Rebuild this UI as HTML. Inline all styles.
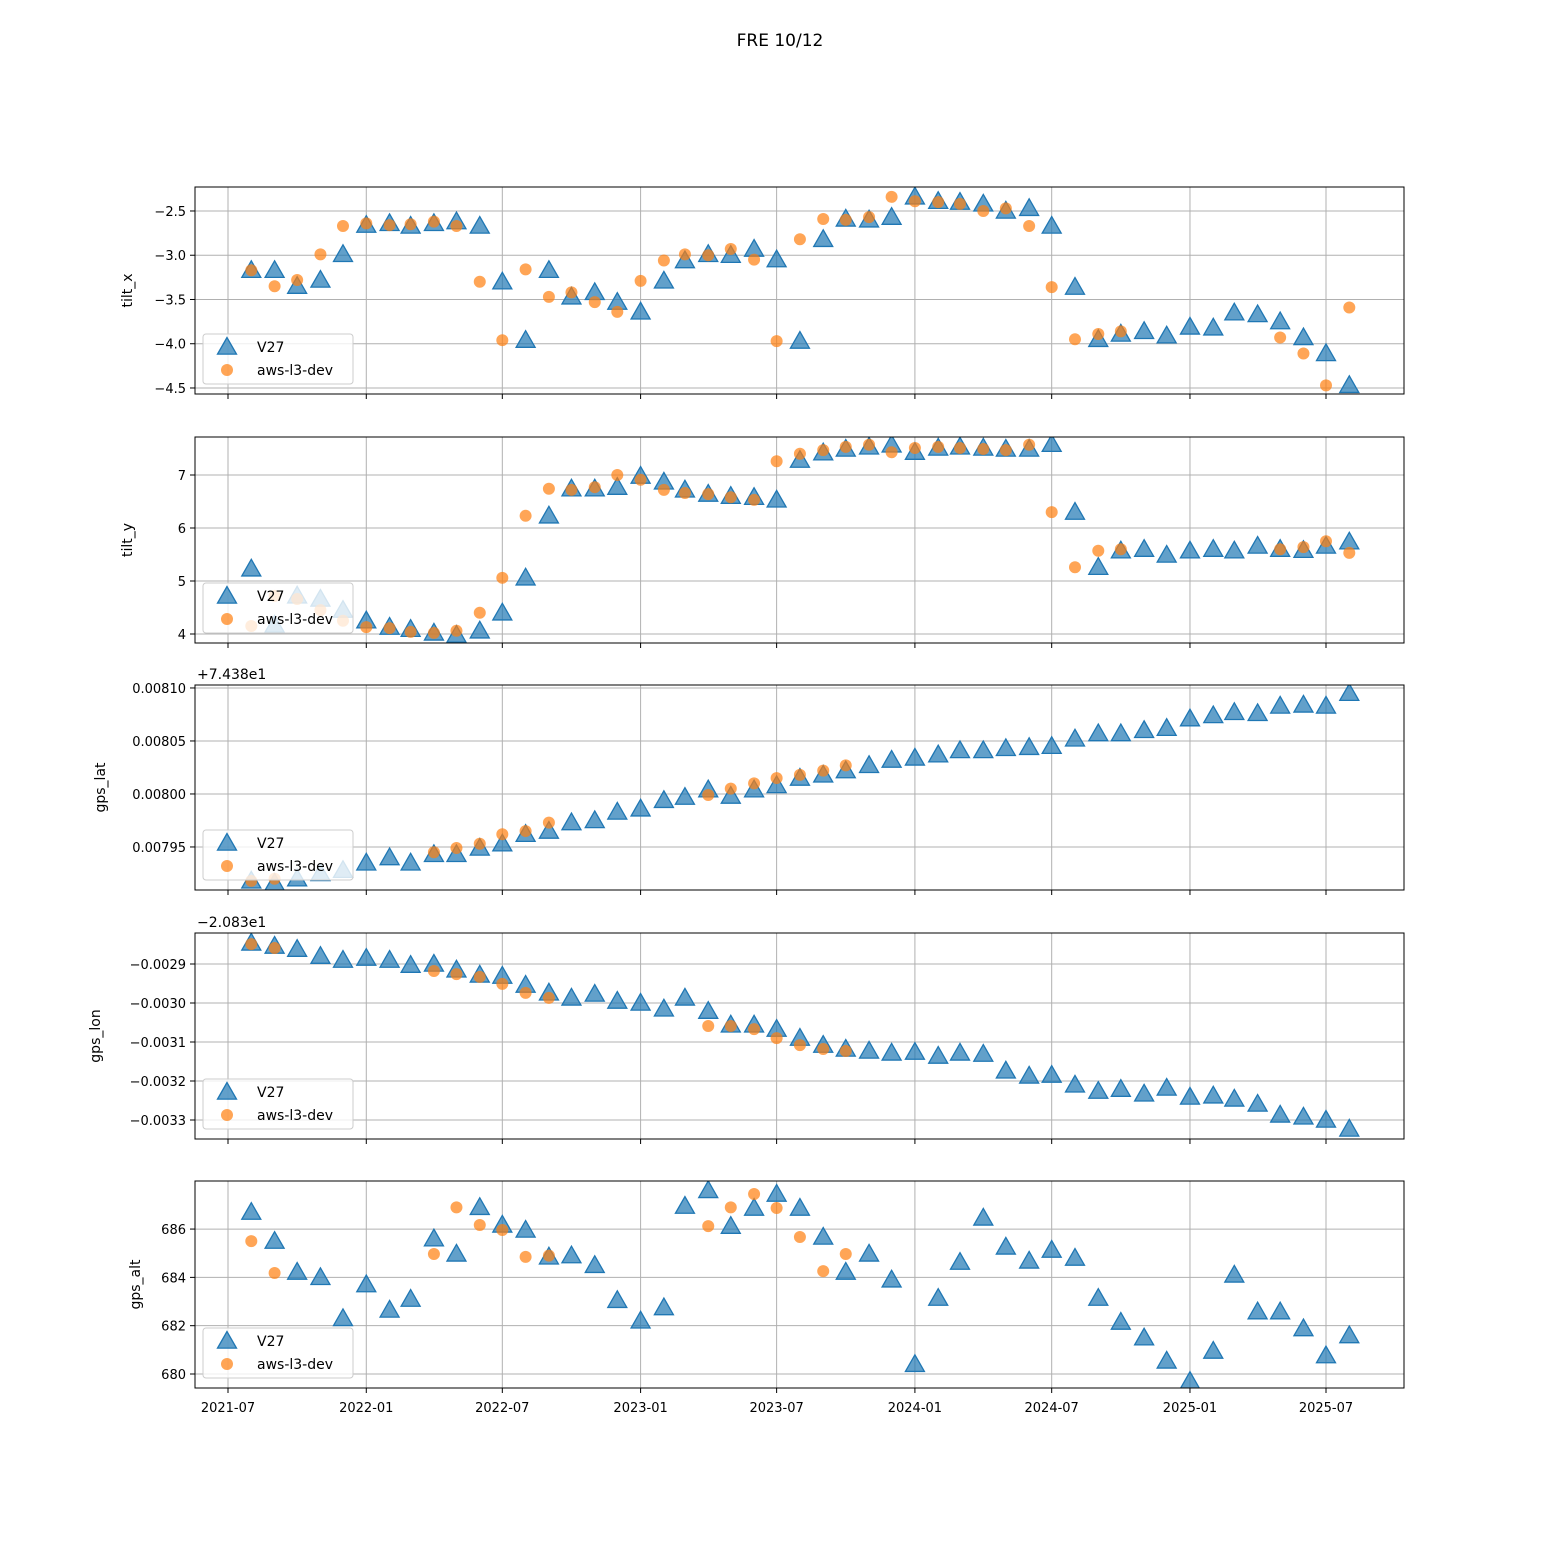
<!DOCTYPE html>
<html><head><meta charset="utf-8"><style>
body{margin:0;background:#fff}
svg text{font-family:"DejaVu Sans","Liberation Sans",sans-serif;fill:#000}
</style></head><body>
<svg id="fig" width="1560" height="1560" viewBox="0 0 1560 1560" xmlns="http://www.w3.org/2000/svg">
<rect width="1560" height="1560" fill="#fff"/>
<text x="780" y="46" font-size="17" text-anchor="middle">FRE 10/12</text>
</svg>
<script>
const startMonth = "2021-08";
const xTickLabels = ["2021-07","2022-01","2022-07","2023-01","2023-07","2024-01","2024-07","2025-01","2025-07"];
const N = null;
const v27TiltX = [-3.17,-3.17,-3.35,-3.28,-2.99,-2.66,-2.64,-2.67,-2.64,-2.62,-2.67,-3.30,-3.96,-3.17,-3.47,-3.42,-3.53,-3.64,-3.29,-3.06,-2.99,-3.00,-2.93,-3.05,-3.97,-2.82,-2.59,-2.60,-2.57,-2.34,-2.39,-2.40,-2.42,-2.50,-2.47,-2.67,-3.36,-3.95,-3.89,-3.86,-3.91,-3.81,-3.82,-3.65,-3.67,-3.75,-3.93,-4.11,-4.47];
const awsTiltX = [-3.17,-3.35,-3.28,-2.99,-2.67,-2.64,-2.66,-2.65,-2.62,-2.67,-3.30,-3.96,-3.16,-3.47,-3.42,-3.53,-3.64,-3.29,-3.06,-2.99,-3.00,-2.93,-3.05,-3.97,-2.82,-2.59,-2.60,-2.57,-2.34,-2.39,-2.40,-2.42,-2.50,-2.47,-2.67,-3.36,-3.95,-3.89,-3.86,N,N,N,N,N,N,-3.93,-4.11,-4.47,-3.59];
const v27TiltY = [5.23,4.17,4.72,4.66,4.45,4.25,4.13,4.09,4.02,3.98,4.06,4.40,5.06,6.23,6.74,6.74,6.77,6.98,6.87,6.72,6.64,6.60,6.58,6.53,7.28,7.42,7.49,7.53,7.57,7.43,7.51,7.53,7.51,7.49,7.49,7.58,6.30,5.26,5.57,5.60,5.49,5.57,5.60,5.57,5.66,5.60,5.58,5.66,5.74];
const awsTiltY = [4.15,4.72,4.66,4.45,4.25,4.13,4.11,4.04,4.02,4.06,4.40,5.06,6.23,6.74,6.72,6.77,7.00,6.91,6.72,6.66,6.64,6.58,6.53,7.26,7.40,7.47,7.53,7.57,7.43,7.51,7.53,7.51,7.49,7.47,7.57,6.30,5.26,5.57,5.60,N,N,N,N,N,N,5.60,5.64,5.75,5.53];
const v27Lat = [0.007918,0.007916,0.00792,0.007925,0.007928,0.007935,0.00794,0.007935,0.007943,0.007943,0.007949,0.007953,0.007962,0.007965,0.007973,0.007975,0.007983,0.007986,0.007994,0.007997,0.008004,0.007998,0.008004,0.008008,0.008015,0.008018,0.008022,0.008027,0.008032,0.008034,0.008037,0.008041,0.008041,0.008043,0.008044,0.008045,0.008052,0.008057,0.008057,0.00806,0.008062,0.008071,0.008074,0.008077,0.008076,0.008083,0.008084,0.008083,0.008095];
const awsLat = [0.007918,0.00792,N,N,N,N,N,N,0.007945,0.007949,0.007953,0.007962,0.007965,0.007973,N,N,N,N,N,N,0.007999,0.008005,0.00801,0.008015,0.008018,0.008022,0.008027,N,N,N,N,N,N,N,N,N,N,N,N,N,N,N,N,N,N,N,N,N,N];
const v27Lon = [-0.002846,-0.002854,-0.002862,-0.00288,-0.00289,-0.002885,-0.00289,-0.002903,-0.0029,-0.002915,-0.002928,-0.002931,-0.002954,-0.002974,-0.002987,-0.002977,-0.002995,-0.003,-0.003015,-0.002987,-0.003021,-0.003056,-0.003056,-0.003067,-0.00309,-0.003108,-0.003118,-0.003123,-0.003128,-0.003126,-0.003136,-0.003128,-0.003131,-0.003174,-0.003187,-0.003185,-0.00321,-0.003226,-0.003221,-0.003233,-0.003218,-0.003241,-0.003238,-0.003246,-0.003259,-0.003287,-0.003292,-0.0033,-0.003323];
const awsLon = [-0.002849,-0.002859,N,N,N,N,N,N,-0.002918,-0.002926,-0.002933,-0.002951,-0.002974,-0.002987,N,N,N,N,N,N,-0.003059,-0.003059,-0.003067,-0.00309,-0.003108,-0.003118,-0.003123,N,N,N,N,N,N,N,N,N,N,N,N,N,N,N,N,N,N,N,N,N,N];
const v27Alt = [686.7,685.5,684.22,684.0,682.3,683.7,682.65,683.1,685.6,684.97,686.9,686.17,685.96,684.85,684.9,684.5,683.05,682.2,682.75,686.95,687.6,686.12,686.87,687.45,686.87,685.67,684.22,684.97,683.9,680.4,683.14,684.63,686.46,685.26,684.68,685.13,684.8,683.14,682.15,681.5,680.54,679.7,680.95,684.1,682.58,682.58,681.88,680.76,681.59];
const awsAlt = [685.5,684.18,N,N,N,N,N,N,684.97,686.9,686.17,685.96,684.85,684.9,N,N,N,N,N,N,686.12,686.9,687.45,686.87,685.67,684.26,684.97,N,N,N,N,N,N,N,N,N,N,N,N,N,N,N,N,N,N,N,N,N,N];
const tiltXTicks = [-2.5,-3.0,-3.5,-4.0,-4.5];
const tiltYTicks = [4,5,6,7];
const latTicks = [0.00795,0.00800,0.00805,0.00810];
const lonTicks = [-0.0029,-0.0030,-0.0031,-0.0032,-0.0033];
const altTicks = [680,682,684,686];

const svg = document.getElementById('fig');
const NS = 'http://www.w3.org/2000/svg';
function mk(tag, attrs, parent){const e=document.createElementNS(NS,tag);for(const k in attrs)e.setAttribute(k,attrs[k]);(parent||svg).appendChild(e);return e;}
const L=195,R=1404;
const base=Date.UTC(2021,6,1), pxPerDay=(1326-228)/1461;
function xDate(y,m){return 228+(Date.UTC(y,m,1)-base)/86400000*pxPerDay;}
function xMonth(i){const [y,m]=startMonth.split('-').map(Number);return xDate(y,m-1+i);}
function tickLab(v){return xDate(+v.slice(0,4),+v.slice(5)-1);}

const panels=[
 {name:'tilt-x',label:'tilt_x',top:187,bot:394,lo:-4.568,hi:-2.229,ticks:tiltXTicks,fmt:v=>v.toFixed(1),v:v27TiltX,a:awsTiltX,labX:132},
 {name:'tilt-y',label:'tilt_y',top:437,bot:643,lo:3.83,hi:7.717,ticks:tiltYTicks,fmt:v=>String(v),v:v27TiltY,a:awsTiltY,labX:132},
 {name:'gps-lat',label:'gps_lat',top:685,bot:890,lo:0.0079094,hi:0.0081028,ticks:latTicks,fmt:v=>v.toFixed(5),v:v27Lat,a:awsLat,labX:105,offset:'+7.438e1'},
 {name:'gps-lon',label:'gps_lon',top:933,bot:1139,lo:-0.0033487,hi:-0.0028205,ticks:lonTicks,fmt:v=>v.toFixed(4),v:v27Lon,a:awsLon,labX:100,offset:'\u22122.083e1'},
 {name:'gps-alt',label:'gps_alt',top:1181,bot:1388,lo:679.42,hi:687.99,ticks:altTicks,fmt:v=>String(v),v:v27Alt,a:awsAlt,labX:140}
];
function tri(g,x,y,name){const s=9.5;const p=mk('polygon',{points:`${x},${y-s} ${x-s},${y+s*0.75} ${x+s},${y+s*0.75}`,fill:'#1f77b4','fill-opacity':0.7,stroke:'#1f77b4','stroke-width':1.3},g);

return p;}
function dot(g,x,y,name){const c=mk('circle',{cx:x,cy:y,r:6,fill:'#ff7f0e','fill-opacity':0.7},g);

return c;}

panels.forEach((p,pi)=>{
 const g=mk('g',{});
 
 
 const ys=v=>p.bot-(v-p.lo)/(p.hi-p.lo)*(p.bot-p.top);
 const clip=mk('clipPath',{id:'c'+pi},g);mk('rect',{x:L,y:p.top,width:R-L,height:p.bot-p.top},clip);
 xTickLabels.forEach(t=>{const x=tickLab(t);
  const gl=mk('line',{x1:x,x2:x,y1:p.top,y2:p.bot,stroke:'#b0b0b0','stroke-width':1},g);
  
  
  mk('line',{x1:x,x2:x,y1:p.bot,y2:p.bot+5,stroke:'#000','stroke-width':1},g);
  if(pi===4){const tx=mk('text',{x:x,y:p.bot+24,'font-size':13,'text-anchor':'middle'},g);tx.textContent=t;
   
   }
 });
 p.ticks.forEach(v=>{const y=ys(v);
  const gl=mk('line',{x1:L,x2:R,y1:y,y2:y,stroke:'#b0b0b0','stroke-width':1},g);
  
  
  mk('line',{x1:L-5,x2:L,y1:y,y2:y,stroke:'#000','stroke-width':1},g);
  const tx=mk('text',{x:L-9,y:y+5,'font-size':13,'text-anchor':'end'},g);tx.textContent=p.fmt(v).replace('-','\u2212');
  
  
 });
 const yl=mk('text',{x:p.labX,y:(p.top+p.bot)/2,'font-size':14,'text-anchor':'middle',transform:`rotate(-90 ${p.labX} ${(p.top+p.bot)/2})`},g);yl.textContent=p.label;
 
 
 if(p.offset){const o=mk('text',{x:197,y:p.top-6,'font-size':14},g);o.textContent=p.offset;
  
  }
 const mg=mk('g',{'clip-path':`url(#c${pi})`},g);
 p.v.forEach((v,i)=>{if(v!==null)tri(mg,xMonth(i),ys(v),'v27-point');});
 p.a.forEach((v,i)=>{if(v!==null)dot(mg,xMonth(i),ys(v),'aws-point');});
 mk('rect',{x:L,y:p.top,width:R-L,height:p.bot-p.top,fill:'none',stroke:'#000','stroke-width':1},g);
 const lg=mk('g',{},g);
 
 
 const lb=p.bot-10-50;
 mk('rect',{x:203,y:lb,width:150,height:50,rx:3,fill:'#fff','fill-opacity':0.8,stroke:'#ccc'},lg);
 tri(lg,227,lb+13,'legend-v27-marker');
 dot(lg,227,lb+36,'legend-aws-marker');
 const t1=mk('text',{x:257,y:lb+18,'font-size':14},lg);t1.textContent='V27';
 
 
 const t2=mk('text',{x:257,y:lb+41,'font-size':14},lg);t2.textContent='aws-l3-dev';
 
 
});
</script>
</body></html>
